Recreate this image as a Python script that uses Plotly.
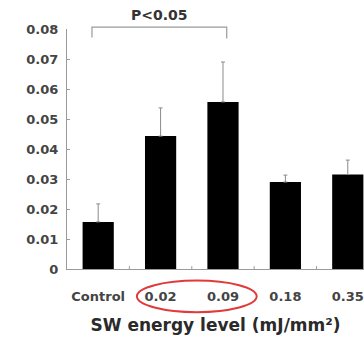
import plotly.graph_objects as go

categories = ["Control", "0.02", "0.09", "0.18", "0.35"]
values = [0.0157, 0.0443, 0.0557, 0.029, 0.0315]
errors = [0.006, 0.0094, 0.0133, 0.0023, 0.0048]
ytick_vals = [0, 0.01, 0.02, 0.03, 0.04, 0.05, 0.06, 0.07, 0.08]
ytick_text = ["0", "0.01", "0.02", "0.03", "0.04", "0.05", "0.06", "0.07", "0.08"]
x_title = "SW energy level (mJ/mm²)"
sig_label = "P<0.05"

FONT = "DejaVu Sans"

fig = go.Figure()
fig.add_trace(go.Bar(
    x=list(range(len(categories))),
    y=values,
    marker=dict(color="#000000", line=dict(width=0)),
    width=0.5,
    error_y=dict(type="data", array=errors, arrayminus=[0] * len(errors),
                 symmetric=False, color="#8a8a8a", thickness=1, width=2),
))

# significance bracket between Control and 0.09
fig.add_shape(type="path", xref="x", yref="paper",
              path="M -0.1,0.965 L -0.1,1.008 L 2.06,1.008 L 2.06,0.96",
              line=dict(color="#9a9a9a", width=1.2))
fig.add_annotation(x=0.98, y=1.06, xref="x", yref="paper", text=sig_label,
                   yanchor="middle", xanchor="center",
                   showarrow=False, font=dict(family=FONT, size=14, color="#333333", weight="bold"))

# red ellipse around 0.02 and 0.09
fig.add_shape(type="circle", xref="x", yref="paper",
              x0=0.62, x1=2.54, y0=-0.18, y1=-0.048,
              line=dict(color="#e03a3a", width=2))

fig.update_layout(
    width=364, height=339,
    margin=dict(l=67, r=0, t=29, b=70),
    paper_bgcolor="white", plot_bgcolor="white",
    showlegend=False,
    xaxis=dict(
        range=[-0.5, 4.26],
        tickmode="array",
        tickvals=list(range(len(categories))),
        ticktext=categories,
        showline=True, linecolor="#9a9a9a", linewidth=1,
        ticks="", showgrid=False, zeroline=False,
        ticklabelstandoff=15,
        tickfont=dict(family=FONT, size=13, color="#444444", weight="bold"),
        title=dict(text=x_title, standoff=16,
                   font=dict(family=FONT, size=17, color="#2a2a2a", weight="bold")),
    ),
    yaxis=dict(
        range=[0, 0.08],
        tickmode="array", tickvals=ytick_vals, ticktext=ytick_text,
        showline=True, linecolor="#9a9a9a", linewidth=1,
        ticks="inside", ticklen=3, tickcolor="#9a9a9a",
        showgrid=False, zeroline=False,
        tickfont=dict(family=FONT, size=13, color="#444444", weight="bold"),
        ticklabelstandoff=5,
    ),
)
# small boundary ticks on x axis
for b in [0.5, 1.5, 2.5, 3.5]:
    fig.add_shape(type="line", xref="x", yref="paper", x0=b, x1=b, y0=0, y1=0.012,
                  line=dict(color="#9a9a9a", width=1))

fig.write_html("out.html")
